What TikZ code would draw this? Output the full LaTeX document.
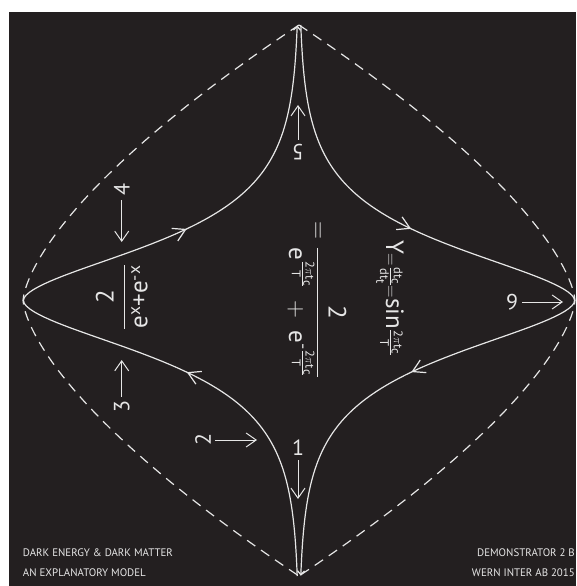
\documentclass[tikz,border=0pt]{standalone}
\usepackage{amsmath}
\usepackage{fontspec}
\setmainfont{PT Sans}
\usetikzlibrary{arrows.meta,decorations.markings}
\definecolor{board}{HTML}{231F20}
\definecolor{chalk}{HTML}{E6E6E6}
\newcommand{\wphase}{\frac{\text{2}\pi\text{t}_\text{c}}{\text{T}}}

\begin{document}
\begin{tikzpicture}[x=1pt,y=-1pt,
    curve/.style={chalk,line width=1.2pt},
    border/.style={chalk,line width=1.2pt,dash pattern=on 10pt off 7pt},
    pointer/.style={chalk,line width=1pt,-{Straight Barb[length=10pt,width=14pt]}},
    digit/.style={text=chalk,font=\fontsize{22}{26}\selectfont,inner sep=4pt},
    formula/.style={text=chalk,font=\fontsize{25}{30}\selectfont,inner sep=0pt},
    caption/.style={text=chalk,font=\fontsize{10.9}{13}\selectfont,inner sep=0pt},
    flow/.style={postaction=decorate,decoration={markings,
        mark=at position 0.29 with {\arrow{Straight Barb[length=12pt,width=14pt]}},
        mark=at position 0.71 with {\arrow{Straight Barb[length=12pt,width=14pt]}}}}]
    \fill[white] (0,0) rectangle (576,586);
    \fill[board] (9,12) rectangle (576,586);

    % outer dashed outline
    \draw[border] plot[domain=-1:1, samples=101, variable=\s] ({299-276*(1-abs(\s)*sqrt(abs(\s)))}, {300.5+275.5*\s});
    \draw[border] plot[domain=-1:1, samples=101, variable=\s] ({299+276*(1-abs(\s)*sqrt(abs(\s)))}, {300.5+275.5*\s});

    % the 2/(e^x+e^-x) loop, bottom -> left -> top -> right -> bottom
    \draw[curve, flow, -{Straight Barb[length=4pt,width=7pt]}] plot[domain=-1:1, samples=201, variable=\s]
        ({299-282.4/cosh(5.648*sqrt(\s*\s+0.000474)+0.1)}, {300.5-275.5*\s});
    \draw[curve, flow, -{Straight Barb[length=4pt,width=7pt]}] plot[domain=-1:1, samples=201, variable=\s]
        ({299+282.4/cosh(5.648*sqrt(\s*\s+0.000474)+0.1)}, {300.5+275.5*\s});

    % formulas
    \node[formula, rotate=90] (f1) at (121.7,297) {$\dfrac{\text{2}}{\text{e}^{\text{x}}\text{+}\text{e}^{\text{-x}}}$};
    \node[formula, rotate=-90] (f2) at (317,300) {$=\dfrac{\text{2}}{\text{e}^{\wphase}\;+\;\text{e}^{\text{-}\wphase}}$};
    \node[formula, rotate=-90] (f3) at (390,298) {$\text{Y}{\scriptstyle=\frac{\text{dt}_\text{c}}{\text{dt}_\text{t}}=}\text{sin}{\scriptstyle\wphase}$};

    % numbered pointers
    \node[digit] (l1) at (298,448) {1};
    \node[digit, rotate=90] (l2) at (203,440) {2};
    \node[digit, rotate=90] (l3) at (121.7,407) {3};
    \node[digit, rotate=90] (l4) at (121.7,190) {4};
    \node[digit, rotate=180] (l5) at (298,152) {5};
    \node[digit, rotate=180] (l6) at (512,302) {6};
    \coordinate (t1) at (298,499);
    \coordinate (t2) at (257,440);
    \coordinate (t3) at (121.7,360);
    \coordinate (t4) at (121.7,242);
    \coordinate (t5) at (298,105);
    \coordinate (t6) at (563,302);
    \draw[pointer] (l1) -- (t1);
    \draw[pointer] (l2) -- (t2);
    \draw[pointer] (l3) -- (t3);
    \draw[pointer] (l4) -- (t4);
    \draw[pointer] (l5) -- (t5);
    \draw[pointer] (l6) -- (t6);

    % captions
    \node[caption, anchor=west] (c1) at (22.8,553) {DARK ENERGY \& DARK MATTER};
    \node[caption, anchor=west] (c2) at (22.8,573) {AN EXPLANATORY MODEL};
    \node[caption, anchor=east] (c3) at (575,553) {DEMONSTRATOR 2 B};
    \node[caption, anchor=east] (c4) at (575,573) {WERN INTER AB 2015};
\end{tikzpicture}
\end{document}
